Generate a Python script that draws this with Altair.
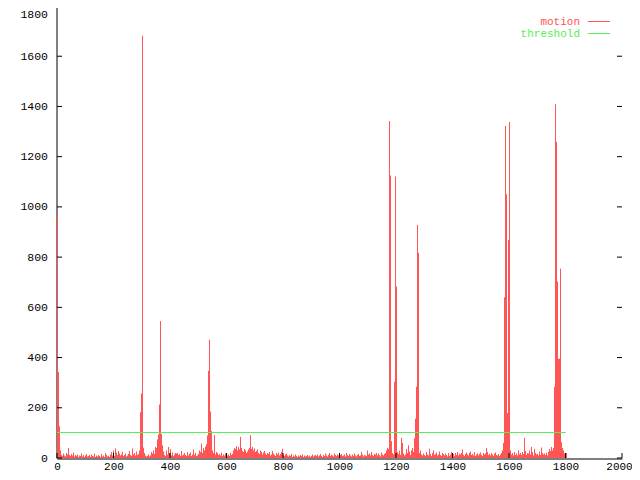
import altair as alt
import pandas as pd

# motion value per screen column (each column ~3.54 frames)
motion = [
    967, 343, 126, 30, 12, 8, 18, 10, 6, 20,
    14, 40, 12, 8, 16, 10, 22, 6, 12, 8,
    14, 4, 10, 8, 18, 6, 12, 4, 10, 16,
    6, 8, 12, 4, 14, 8, 6, 18, 4, 10,
    6, 12, 8, 4, 16, 6, 10, 4, 20, 12,
    6, 8, 4, 14, 24, 10, 30, 8, 38, 22,
    12, 28, 18, 10, 14, 24, 8, 12, 18, 6,
    10, 16, 28, 12, 8, 38, 14, 20, 10, 26,
    12, 16, 30, 182, 257, 1682, 41, 20, 10, 6,
    8, 14, 6, 10, 24, 18, 30, 16, 44, 40,
    74, 93, 213, 545, 95, 50, 26, 12, 8, 30,
    14, 44, 20, 36, 10, 22, 8, 14, 20, 18,
    20, 12, 16, 8, 28, 10, 14, 20, 12, 8,
    24, 10, 16, 22, 8, 14, 34, 12, 20, 8,
    10, 16, 30, 24, 58, 20, 40, 30, 45, 55,
    90, 347, 471, 185, 107, 30, 20, 91, 14, 24,
    20, 12, 16, 10, 22, 8, 14, 10, 18, 12,
    10, 14, 8, 20, 12, 16, 30, 40, 36, 48,
    30, 44, 34, 84, 40, 28, 24, 36, 30, 20,
    26, 34, 40, 91, 36, 44, 30, 38, 24, 28,
    34, 20, 16, 30, 24, 14, 22, 28, 18, 12,
    20, 16, 24, 10, 14, 28, 18, 12, 8, 20,
    14, 22, 10, 16, 24, 37, 12, 8, 14, 18,
    10, 6, 12, 8, 16, 4, 10, 6, 14, 8,
    4, 10, 6, 12, 8, 14, 4, 10, 6, 8,
    12, 6, 10, 4, 8, 14, 6, 10, 12, 8,
    14, 6, 10, 16, 8, 4, 12, 8, 18, 10,
    6, 12, 20, 8, 14, 10, 6, 18, 12, 8,
    14, 10, 6, 12, 16, 8, 10, 14, 6, 20,
    12, 8, 16, 10, 6, 14, 8, 18, 10, 6,
    12, 16, 8, 10, 24, 14, 6, 12, 10, 8,
    30, 14, 18, 10, 24, 12, 8, 16, 14, 20,
    10, 18, 12, 6, 22, 14, 10, 16, 20, 30,
    40, 36, 1342, 1125, 67, 20, 14, 304, 1121, 683,
    24, 16, 30, 12, 80, 60, 18, 10, 14, 36,
    20, 51, 26, 12, 30, 40, 24, 78, 157, 284,
    928, 817, 20, 30, 14, 10, 18, 12, 8, 24,
    14, 10, 37, 16, 8, 20, 30, 12, 16, 22,
    10, 14, 26, 12, 8, 20, 16, 10, 18, 12,
    6, 20, 8, 14, 24, 10, 16, 8, 20, 12,
    24, 10, 18, 14, 20, 34, 12, 8, 16, 22,
    14, 10, 20, 26, 12, 16, 10, 24, 8, 14,
    18, 10, 16, 22, 12, 8, 20, 14, 18, 40,
    24, 12, 16, 10, 20, 14, 8, 18, 22, 12,
    10, 16, 8, 14, 20, 30, 60, 640, 1322, 1050,
    179, 868, 1338, 30, 14, 20, 10, 24, 12, 18,
    10, 30, 14, 20, 12, 24, 16, 80, 28, 12,
    20, 18, 30, 14, 44, 24, 10, 36, 20, 14,
    16, 10, 26, 12, 42, 20, 14, 18, 12, 20,
    10, 24, 36, 28, 44, 30, 40, 284, 1409, 1259,
    703, 395, 395, 754, 63, 40, 30, 18, 12, 20,
]
x_ticks = [0, 200, 400, 600, 800, 1000, 1200, 1400, 1600, 1800, 2000]
y_ticks = [0, 200, 400, 600, 800, 1000, 1200, 1400, 1600, 1800]
threshold_value = 100
threshold_frames = [0, 1801]
series_names = ["motion", "threshold"]
series_colors = ["#ff5555", "#55ee55"]

W, H = 565, 452
X_MAX, Y_MAX = 2000, 1800
step = X_MAX / W
FONT = "Liberation Mono"
FS = 11.5
XFS = 11
LFS = 11

bars = pd.DataFrame({
    "xc": [(i + 0.5) * step for i in range(len(motion))],
    "v": motion,
})
thr = pd.DataFrame({"f0": [threshold_frames[0]], "f1": [threshold_frames[1]], "v": [threshold_value]})
xt = pd.DataFrame({"t": x_ticks})
yt = pd.DataFrame({"t": y_ticks})
one = pd.DataFrame({"k": [0]})

xs = alt.Scale(domain=[0, X_MAX], nice=False, zero=False)
ys = alt.Scale(domain=[0, Y_MAX], nice=False)

x_axis = alt.Axis(values=x_ticks, title=None, grid=False, tickSize=0, labelPadding=1.5,
                  labelFont=FONT, labelFontSize=XFS, labelColor="black", format="d",
                  labelBaseline="top", offset=0.5,
                  labelOffset={"condition": {"test": "datum.value == 2000", "value": -3},
                               "value": 0},
                  domainColor="black", labelFlush=False, labelOverlap=False)
y_axis = alt.Axis(values=y_ticks, title=None, grid=False, tickSize=0, labelPadding=9,
                  labelFont=FONT, labelFontSize=FS, labelColor="black", format="d",
                  domainColor="black", labelOverlap=False, offset=0.5,
                  labelOffset={"condition": {"test": "datum.value == 1800", "value": 2},
                               "value": 0},
                  labelBaseline={"condition": {"test": "datum.value == 1800", "value": "top"},
                                 "value": "middle"})

base_axes = alt.Chart(yt).mark_rule(opacity=0).encode(
    x=alt.X("t:Q", scale=xs, axis=x_axis),
    y=alt.Y("t:Q", scale=ys, axis=y_axis),
)

motion_layer = alt.Chart(bars).mark_rule(color=series_colors[0], strokeWidth=1).encode(
    x=alt.X("xc:Q", scale=xs),
    y=alt.Y("v:Q", scale=ys),
    y2=alt.datum(0),
)

thr_layer = alt.Chart(thr).mark_rule(color=series_colors[1], strokeWidth=1, yOffset=-0.39).encode(
    x=alt.X("f0:Q", scale=xs),
    x2="f1:Q",
    y=alt.Y("v:Q", scale=ys),
)

ytick_l = alt.Chart(yt).mark_rule(color="black").encode(
    y=alt.Y("t:Q", scale=ys), x=alt.value(0), x2=alt.value(5))
ytick_r = alt.Chart(yt).mark_rule(color="black").encode(
    y=alt.Y("t:Q", scale=ys), x=alt.value(W - 5), x2=alt.value(W))
xtick_b = alt.Chart(xt).mark_rule(color="black").encode(
    x=alt.X("t:Q", scale=xs), y=alt.value(H - 5), y2=alt.value(H))

legend_layers = []
for i, (name, col) in enumerate(zip(series_names, series_colors)):
    yy = 15.5 + 12 * i
    legend_layers.append(
        alt.Chart(one).mark_text(text=name, align="right", baseline="middle", font=FONT,
                                 fontSize=LFS, color=col).encode(x=alt.value(523), y=alt.value(yy)))
    legend_layers.append(
        alt.Chart(one).mark_rule(color=col, strokeWidth=1).encode(
            x=alt.value(531), x2=alt.value(553), y=alt.value(yy)))

chart = alt.layer(base_axes, motion_layer, thr_layer, ytick_l, ytick_r, xtick_b,
                  *legend_layers).properties(
    width=W, height=H,
    padding={"left": 49, "top": -2, "right": 10, "bottom": 14},
    autosize="none",
    background="white",
).configure_view(stroke=None)

chart.save("out.html", embed_options={"renderer": "svg", "actions": False})
